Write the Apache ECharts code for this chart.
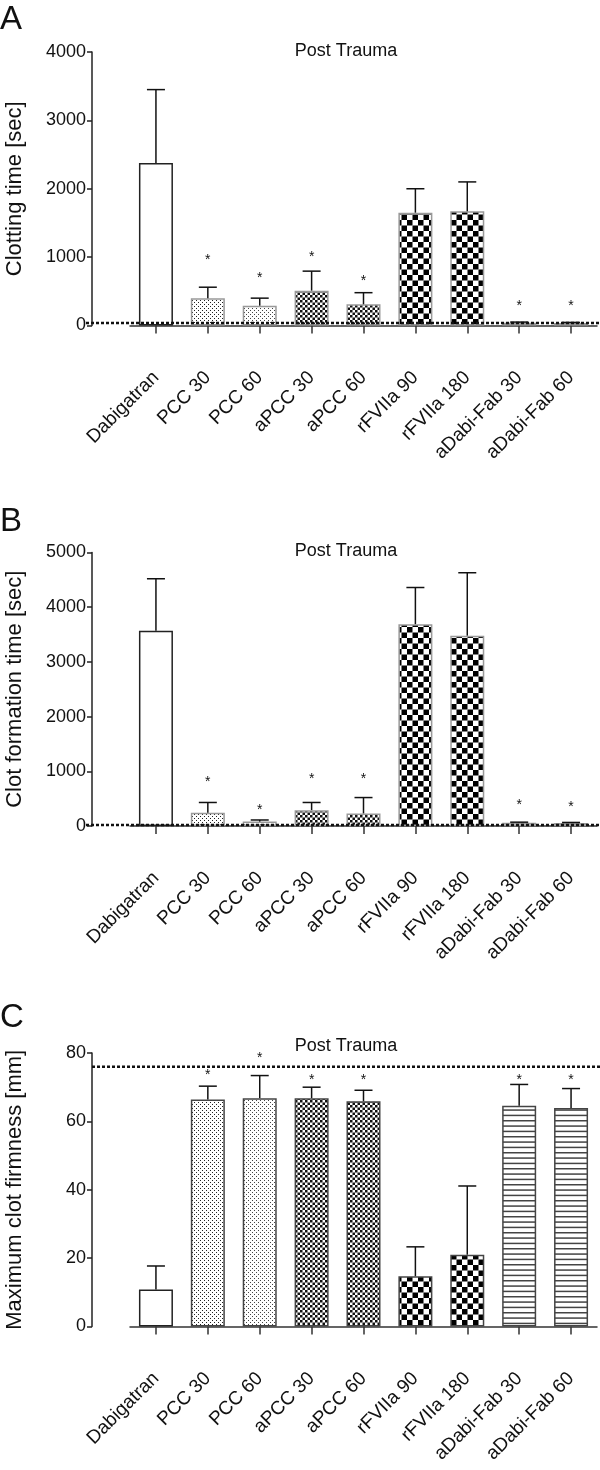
<!DOCTYPE html>
<html>
<head>
<meta charset="utf-8">
<script src="https://cdn.jsdelivr.net/npm/echarts@6/dist/echarts.min.js"></script>
<style>
html,body{margin:0;padding:0;background:#fff;}
#chart{width:600px;height:1470px;}
</style>
</head>
<body>
<div id="chart"></div>
<script>
// ---- data ----
const categories = ['Dabigatran','PCC 30','PCC 60','aPCC 30','aPCC 60','rFVIIa 90','rFVIIa 180','aDabi-Fab 30','aDabi-Fab 60'];
const patterns = ['none','dots','dots2','fine','fine','big','big','stripes','stripes'];

// Panel A: Clotting time [sec]
const ctMean = [2375, 400, 290, 510, 310, 1650, 1670, 40, 35];
const ctSD   = [1075, 160, 110, 285, 170, 350, 430, 10, 10];
const ctSig  = [null, 1000, 730, 1040, 690, null, null, 330, 330];
const ctRef  = 35;
const ctTicks = [0, 4000, 1000];

// Panel B: Clot formation time [sec]
const cftMean = [3570, 240, 80, 290, 230, 3690, 3480, 60, 55];
const cftSD   = [950, 190, 30, 140, 290, 670, 1150, 10, 10];
const cftSig  = [null, 860, 340, 920, 920, null, null, 430, 400];
const cftRef  = 20;
const cftTicks = [0, 5000, 1000];

// Panel C: Maximum clot firmness [mm]
const mcfMean = [10.8, 66.4, 66.8, 66.8, 65.9, 14.7, 21.0, 64.6, 63.9];
const mcfSD   = [6.9, 3.9, 6.6, 3.2, 3.2, 8.6, 20.1, 6.2, 5.7];
const mcfSig  = [null, 74.4, 79.5, 73, 73, null, null, 73, 73];
const mcfRef  = 76;
const mcfTicks = [0, 80, 20];

const panelLetters = ['A','B','C'];
const yNames = ['Clotting time [sec]','Clot formation time [sec]','Maximum clot firmness [mm]'];
const panelTitle = 'Post Trauma';

// ---- patterns ----
function makePattern(kind){
  const c = document.createElement('canvas');
  let ctx;
  if(kind==='dots' || kind==='dots2'){
    c.width=4; c.height=4; ctx=c.getContext('2d');
    ctx.fillStyle='#fff'; ctx.fillRect(0,0,4,4);
    ctx.fillStyle = kind==='dots' ? '#222' : '#444';
    ctx.fillRect(0,0,1,1); ctx.fillRect(2,2,1,1);
  } else if(kind==='fine'){
    c.width=5; c.height=5; ctx=c.getContext('2d');
    ctx.fillStyle='#fff'; ctx.fillRect(0,0,5,5);
    ctx.fillStyle='#111';
    ctx.fillRect(0,0,2.5,2.5); ctx.fillRect(2.5,2.5,2.5,2.5);
  } else if(kind==='big'){
    c.width=11; c.height=11; ctx=c.getContext('2d');
    ctx.fillStyle='#fff'; ctx.fillRect(0,0,11,11);
    ctx.fillStyle='#000';
    ctx.fillRect(0,0,5.5,5.5); ctx.fillRect(5.5,5.5,5.5,5.5);
  } else if(kind==='stripes'){
    c.width=4; c.height=16; ctx=c.getContext('2d');
    ctx.fillStyle='#fff'; ctx.fillRect(0,0,4,16);
    ctx.fillStyle='#444';
    ctx.fillRect(0,0,4,1.5); ctx.fillRect(0,5.33,4,1.5); ctx.fillRect(0,10.67,4,1.5);
  }
  return c;
}
const patternCanvas = {};
['dots','dots2','fine','big','stripes'].forEach(k=>patternCanvas[k]=makePattern(k));

// ---- layout ----
const FONT = "'Liberation Sans', Arial, Helvetica, sans-serif";
const gridTops = [52, 552.5, 1053];
const gridH = 273.5;
const gridLeft = 130, gridW = 467;
const refLeft = [86, 86, 92];

const panels = [
  {mean: ctMean, sd: ctSD, sig: ctSig, ref: ctRef, ticks: ctTicks},
  {mean: cftMean, sd: cftSD, sig: cftSig, ref: cftRef, ticks: cftTicks},
  {mean: mcfMean, sd: mcfSD, sig: mcfSig, ref: mcfRef, ticks: mcfTicks}
];

const grid=[], xAxis=[], yAxis=[], series=[], graphic=[];

panels.forEach((p, k)=>{
  const gi = k*2, ri = k*2+1;
  grid.push({left: gridLeft, width: gridW, top: gridTops[k], height: gridH, outerBoundsMode:'none', containLabel:false});
  grid.push({left: refLeft[k], right: 0, top: gridTops[k], height: gridH, outerBoundsMode:'none', containLabel:false});

  xAxis.push({
    type:'category', gridIndex: gi, data: categories, offset: 37,
    axisLine:{show:true, lineStyle:{color:'#333', width:1.5}},
    axisTick:{show:true, alignWithLabel:true, length:8, lineStyle:{color:'#333', width:1.5}},
    axisLabel:{rotate:45, fontSize:19, fontFamily:FONT, color:'#111', margin:12, interval:0},
    splitLine:{show:false}
  });
  xAxis.push({type:'value', gridIndex: ri, min:0, max:1, show:false});

  yAxis.push({
    type:'value', gridIndex: gi, min: p.ticks[0], max: p.ticks[1], interval: p.ticks[2],
    offset: 38,
    name: yNames[k], nameLocation:'middle', nameGap: 66,
    nameTextStyle:{fontSize:22, fontFamily:FONT, color:'#111'},
    axisLine:{show:true, lineStyle:{color:'#222', width:1.5}},
    axisTick:{show:true, length:5, lineStyle:{color:'#222', width:1.5}},
    axisLabel:{fontSize:18, fontFamily:FONT, color:'#111', margin:6, formatter: v => String(v)},
    splitLine:{show:false}
  });
  yAxis.push({type:'value', gridIndex: ri, min: p.ticks[0], max: p.ticks[1], show:false});

  const borderPat = k===2 ? '#444' : '#999';
  series.push({
    type:'bar', xAxisIndex: gi, yAxisIndex: gi, barWidth: 34, silent:true,
    data: p.mean.map((v,i)=>{
      const pat = patterns[i];
      return {
        value: v,
        itemStyle: pat==='none'
          ? {color:'#fff', borderColor:'#222', borderWidth:1.5}
          : {color:{image: patternCanvas[pat], repeat:'repeat'}, borderColor: borderPat, borderWidth:1.5}
      };
    }),
    z: 2
  });

  // error bars (upper only)
  series.push({
    type:'custom', xAxisIndex: gi, yAxisIndex: gi, silent:true, z:3,
    data: p.mean.map((v,i)=>[i, v, v + p.sd[i]]),
    renderItem: function(params, api){
      const base = api.coord([api.value(0), api.value(1)]);
      const top = api.coord([api.value(0), api.value(2)]);
      const hw = 9;
      return {type:'group', children:[
        {type:'line', shape:{x1:base[0], y1:base[1], x2:top[0], y2:top[1]}, style:{stroke:'#111', lineWidth:1.5}},
        {type:'line', shape:{x1:top[0]-hw, y1:top[1], x2:top[0]+hw, y2:top[1]}, style:{stroke:'#111', lineWidth:1.5}}
      ]};
    }
  });

  // significance asterisks
  series.push({
    type:'custom', xAxisIndex: gi, yAxisIndex: gi, silent:true, z:4,
    data: p.sig.map((v,i)=> v==null ? null : [i, v]).filter(d=>d),
    renderItem: function(params, api){
      const pt = api.coord([api.value(0), api.value(1)]);
      return {type:'text', x: pt[0], y: pt[1] + 3,
        style:{text:'*', font: '14px ' + FONT, fill:'#111', textAlign:'center', textVerticalAlign:'middle'}};
    }
  });

  // reference dashed line
  series.push({
    type:'line', xAxisIndex: ri, yAxisIndex: ri, silent:true, z:5,
    data: [[0, p.ref],[1, p.ref]], symbol:'none',
    lineStyle:{color:'#111', width:2.5, type:[3,2]}
  });

  graphic.push({type:'text', left: 0, top: [3, 505, 1001][k],
    style:{text: panelLetters[k], font: '33px ' + FONT, fill:'#111'}});
  graphic.push({type:'text', x: 346, y: [51, 551, 1046][k],
    style:{text: panelTitle, font: '18px ' + FONT, fill:'#111', textAlign:'center', textVerticalAlign:'middle'}});
});

const chart = echarts.init(document.getElementById('chart'), null, {renderer:'canvas'});
chart.setOption({
  animation:false,
  backgroundColor:'#fff',
  grid, xAxis, yAxis, series, graphic
});
</script>
</body>
</html>
